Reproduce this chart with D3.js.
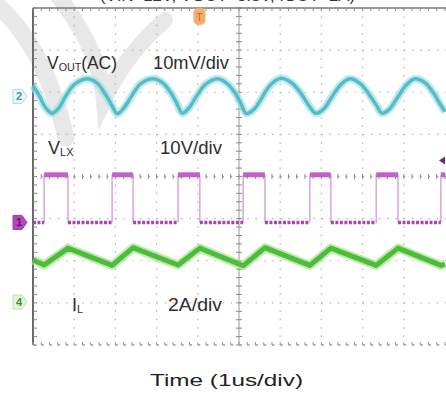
<!DOCTYPE html>
<html>
<head>
  <title>Buck converter waveforms</title>
  <style>
    body { margin: 0; background: #fff; }
    text { font-family: Arial, "Liberation Sans", sans-serif; }
  </style>
</head>
<body>
  <svg id="main" width="446" height="401"></svg>

  <script src="https://cdn.jsdelivr.net/npm/d3@7/dist/d3.min.js"></script>
  <script>
    // VLX switching edges (us) and levels (V)
    const riseTimes = [0.27, 1.92, 3.52, 5.10, 6.72, 8.33, 9.90]
    const fallTimes = [0.85, 2.43, 4.05, 5.63, 7.23, 8.86]
    const vlxLevels = [0, 11.3]

    // inductor current (A)
    const ilTimes = [0, 0.27, 0.85, 1.92, 2.43, 3.52, 4.05, 5.10, 5.63, 6.72, 7.23, 8.33, 8.86, 9.90, 10]
    const ilAmps = [2.00, 1.76, 2.56, 1.74, 2.58, 1.76, 2.56, 1.72, 2.58, 1.74, 2.56, 1.74, 2.56, 1.74, 1.80]

    // output ripple (mV, AC coupled)
    const voutTimes = [0.00, 0.15, 0.30, 0.46, 0.62, 0.80, 1.00, 1.30, 1.55, 1.75,
      1.92, 2.04, 2.20, 2.40, 2.60, 2.91, 3.15, 3.35, 3.50, 3.62,
      3.78, 3.98, 4.18, 4.49, 4.72, 4.92, 5.05, 5.17, 5.35, 5.55,
      5.75, 6.02, 6.28, 6.50, 6.70, 6.87, 7.05, 7.25, 7.45, 7.69,
      7.95, 8.15, 8.33, 8.47, 8.65, 8.85, 9.05, 9.27, 9.52, 9.72,
      9.88, 10.0]
    const voutMv = [2.6, 0.2, -2.6, -4.0, -2.8, 0.2, 2.8, 4.2, 3.2, 0.6,
      -2.2, -4.1, -2.8, 0.2, 2.9, 4.2, 3.2, 0.8, -1.8, -4.0,
      -2.8, 0.2, 2.8, 4.2, 3.0, 0.6, -1.8, -4.0, -3.2, -0.4,
      2.6, 4.3, 3.2, 0.8, -2.2, -4.0, -3.0, -0.2, 2.6, 4.2,
      3.0, 0.6, -2.0, -4.0, -3.0, -0.2, 2.6, 4.2, 3.2, 0.8,
      -1.8, -3.6]

    // channel offsets (div) and scales (units/div)
    const channels = {
      vout: { offset: 1.90, perDiv: 10 },
      vlx: { offset: -1.09, perDiv: 10 },
      il: { offset: -2.98, perDiv: 2 }
    }

    const svg = d3.select('#main')
    const x = d3.scaleLinear().domain([0, 10]).range([33, 445])
    const y = d3.scaleLinear().domain([-4, 4]).range([345, 8])
    const chY = (ch, v) => y(channels[ch].offset + v / channels[ch].perDiv)

    // faint watermark behind everything
    const wm = svg.append('g').attr('fill', 'none').attr('stroke', '#e8e8e8').attr('stroke-linecap', 'round')
    wm.append('path').attr('d', 'M-6,2 Q45,45 66,138').attr('stroke-width', 17)
    wm.append('path').attr('d', 'M58,-4 Q100,50 104,100 Q125,55 165,20').attr('stroke-width', 16)

    // header line, cut off by the top edge of the capture
    svg.append('text')
      .attr('x', 100).attr('y', 1)
      .attr('font-size', 15).attr('fill', '#333')
      .attr('textLength', 255).attr('lengthAdjust', 'spacingAndGlyphs')
      .text('(VIN=12V, VOUT=3.3V, IOUT=2A)')

    // graticule
    const grid = svg.append('g')
    const minor = d3.range(-4, 4.001, 0.2)
    const minorX = d3.range(0, 10.001, 0.2)

    grid.selectAll('.vg').data([1, 2, 3, 4, 6, 7, 8, 9]).join('line')
      .attr('x1', d => x(d)).attr('x2', d => x(d))
      .attr('y1', y(4)).attr('y2', y(-4))
      .attr('stroke', '#b4b4b4').attr('stroke-width', 1.2)
      .attr('stroke-dasharray', '1.5,6.9')

    grid.selectAll('.hg').data([-3, -2, -1, 1, 2, 3]).join('line')
      .attr('x1', x(0)).attr('x2', 446)
      .attr('y1', d => y(d)).attr('y2', d => y(d))
      .attr('stroke', '#b4b4b4').attr('stroke-width', 1.2)
      .attr('stroke-dasharray', '1.5,6.74')

    // centre cross with ticks
    grid.append('line')
      .attr('x1', x(5)).attr('x2', x(5)).attr('y1', y(4)).attr('y2', y(-4))
      .attr('stroke', '#9a9a9a').attr('stroke-width', 1)
    grid.selectAll('.ct').data(minor).join('line')
      .attr('x1', x(5) - 3).attr('x2', x(5) + 3)
      .attr('y1', d => y(d)).attr('y2', d => y(d))
      .attr('stroke', '#8a8a8a').attr('stroke-width', 1)
    grid.append('line')
      .attr('x1', x(0)).attr('x2', 446).attr('y1', y(0)).attr('y2', y(0))
      .attr('stroke', '#9a9a9a').attr('stroke-width', 1.2)
      .attr('stroke-dasharray', '1.5,6.74')
    grid.selectAll('.ch').data(minorX).join('line')
      .attr('x1', d => x(d)).attr('x2', d => x(d))
      .attr('y1', y(0) - 2.5).attr('y2', y(0) + 2.5)
      .attr('stroke', '#8a8a8a').attr('stroke-width', 1)

    // frame: left solid, top ticked, bottom dashed
    grid.append('line')
      .attr('x1', x(0)).attr('x2', x(0)).attr('y1', y(4)).attr('y2', y(-4))
      .attr('stroke', '#6a6a6a').attr('stroke-width', 2)
    grid.selectAll('.lt').data(minor).join('line')
      .attr('x1', x(0)).attr('x2', x(0) + 4)
      .attr('y1', d => y(d)).attr('y2', d => y(d))
      .attr('stroke', '#888').attr('stroke-width', 1)
    grid.append('line')
      .attr('x1', x(0)).attr('x2', 446).attr('y1', y(4)).attr('y2', y(4))
      .attr('stroke', '#7a7a7a').attr('stroke-width', 1.5)
    grid.selectAll('.tt').data(minorX).join('line')
      .attr('x1', d => x(d)).attr('x2', d => x(d))
      .attr('y1', y(4)).attr('y2', y(4) + 3)
      .attr('stroke', '#888').attr('stroke-width', 1)
    grid.append('line')
      .attr('x1', x(0)).attr('x2', 446).attr('y1', y(-4)).attr('y2', y(-4))
      .attr('stroke', '#9a9a9a').attr('stroke-width', 1.4)
      .attr('stroke-dasharray', '2.5,5.74')
    grid.selectAll('.bt').data(minorX).join('line')
      .attr('x1', d => x(d)).attr('x2', d => x(d))
      .attr('y1', y(-4) - 3).attr('y2', y(-4))
      .attr('stroke', '#999').attr('stroke-width', 1)

    // VLX square wave: thin edges, thick levels
    const edges = riseTimes.concat(fallTimes).sort(d3.ascending)
    const vlx = svg.append('g')
    vlx.selectAll('.edge').data(edges).join('line')
      .attr('x1', d => x(d)).attr('x2', d => x(d))
      .attr('y1', chY('vlx', vlxLevels[0])).attr('y2', chY('vlx', vlxLevels[1]))
      .attr('stroke', '#d89ddc').attr('stroke-width', 1.4)
    const bounds = [0].concat(edges, [10])
    const segs = d3.pairs(bounds).map(([a, b]) => {
      const high = riseTimes.filter(r => r <= a).length > fallTimes.filter(f => f <= a).length
      return { a, b, v: high ? vlxLevels[1] : vlxLevels[0], high }
    })
    vlx.selectAll('.lvl').data(segs).join('line')
      .attr('x1', d => x(d.a)).attr('x2', d => x(d.b))
      .attr('y1', d => chY('vlx', d.v)).attr('y2', d => chY('vlx', d.v))
      .attr('stroke', d => d.high ? '#c35fca' : '#a846b2')
      .attr('stroke-width', d => d.high ? 5 : 3.5)
      .attr('stroke-dasharray', d => d.high ? null : '3,1.5')

    // IL triangle
    const ilLine = d3.line().x((d, i) => x(ilTimes[i])).y((d, i) => chY('il', ilAmps[i]))
    svg.append('path').attr('d', ilLine(ilAmps))
      .attr('fill', 'none').attr('stroke', '#a6e08f').attr('stroke-width', 9)
      .attr('stroke-linejoin', 'round').attr('opacity', 0.7)
    svg.append('path').attr('d', ilLine(ilAmps))
      .attr('fill', 'none').attr('stroke', '#4cbd3a').attr('stroke-width', 5)
      .attr('stroke-linejoin', 'round')

    // VOUT ripple
    const voutLine = d3.line()
      .x((d, i) => x(voutTimes[i])).y((d, i) => chY('vout', voutMv[i]))
      .curve(d3.curveCatmullRom)
    svg.append('path').attr('d', voutLine(voutMv))
      .attr('fill', 'none').attr('stroke', '#a8e0e5').attr('stroke-width', 8).attr('opacity', 0.7)
    svg.append('path').attr('d', voutLine(voutMv))
      .attr('fill', 'none').attr('stroke', '#55bdc7').attr('stroke-width', 3.5)

    // channel markers on the left
    const marker = (cy, fill, stroke, label, color) => {
      const g = svg.append('g').attr('transform', `translate(13,${cy})`)
      g.append('path').attr('d', 'M0,-7 L9,-7 L14,0 L9,7 L0,7 Z')
        .attr('fill', fill).attr('stroke', stroke).attr('stroke-width', 1)
      g.append('text').attr('x', 6).attr('y', 4).attr('text-anchor', 'middle')
        .attr('font-size', 11).attr('font-weight', 'bold').attr('fill', color).text(label)
    }
    marker(chY('vout', 0), '#eaf8fa', '#a6dfe5', '2', '#3a9aa8')
    marker(chY('vlx', 0), '#b447be', '#a03aaa', '1', '#5a1c62')
    marker(chY('il', 0), '#e2f4dc', '#b8e4ac', '4', '#3c8a30')

    // trigger position marker
    const trig = svg.append('g').attr('transform', `translate(${x(4.04)},8)`)
    trig.append('rect').attr('x', -6).attr('y', 0).attr('width', 12).attr('height', 17).attr('rx', 5)
      .attr('fill', '#f4ad6a')
    trig.append('text').attr('x', 0).attr('y', 13).attr('text-anchor', 'middle')
      .attr('font-size', 10).attr('fill', '#c8651c').text('T')

    // trigger level marker on right
    svg.append('path').attr('d', `M${x(10) - 6},${y(0.38)} L${x(10)},${y(0.38) - 4} L${x(10)},${y(0.38) + 4} Z`)
      .attr('fill', '#6c2c72')

    // labels
    const labels = svg.append('g').attr('fill', '#2e2e2e').attr('font-size', 18)
    const vo = labels.append('text').attr('x', 47).attr('y', 69)
      .attr('textLength', 70).attr('lengthAdjust', 'spacingAndGlyphs')
    vo.append('tspan').text('V')
    vo.append('tspan').attr('font-size', 11).attr('dy', 2).text('OUT')
    vo.append('tspan').attr('dy', -2).text('(AC)')
    labels.append('text').attr('x', 153).attr('y', 69)
      .attr('textLength', 76).attr('lengthAdjust', 'spacingAndGlyphs').text('10mV/div')

    const vl = labels.append('text').attr('x', 48).attr('y', 154)
    vl.append('tspan').text('V')
    vl.append('tspan').attr('font-size', 11).attr('dy', 2).text('LX')
    labels.append('text').attr('x', 160).attr('y', 154)
      .attr('textLength', 62).attr('lengthAdjust', 'spacingAndGlyphs').text('10V/div')

    const il = labels.append('text').attr('x', 72).attr('y', 311)
    il.append('tspan').text('I')
    il.append('tspan').attr('font-size', 11).attr('dy', 2).text('L')
    labels.append('text').attr('x', 168).attr('y', 311)
      .attr('textLength', 54).attr('lengthAdjust', 'spacingAndGlyphs').text('2A/div')

    svg.append('text')
      .attr('x', 150).attr('y', 386)
      .attr('font-size', 17).attr('fill', '#222')
      .attr('textLength', 153).attr('lengthAdjust', 'spacingAndGlyphs')
      .text('Time (1us/div)')
  </script>
</body>
</html>
